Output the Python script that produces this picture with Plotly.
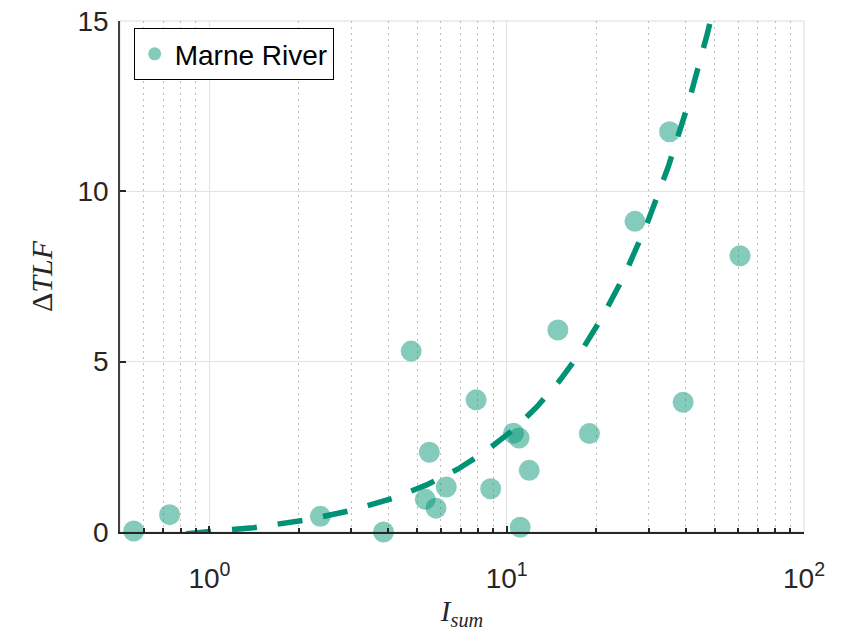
import numpy as np
import plotly.graph_objects as go

# Data
i_sum = [0.556, 0.734, 2.36, 3.85, 4.77, 5.49, 5.32, 5.78, 6.26, 7.89, 8.83,
         10.54, 11.0, 11.9, 11.1, 14.86, 18.97, 27.0, 35.3, 60.9, 39.2]
delta_tlf = [0.03, 0.51, 0.46, 0.0, 5.31, 2.34, 0.96, 0.70, 1.32, 3.88, 1.27,
             2.90, 2.76, 1.81, 0.14, 5.93, 2.89, 9.12, 11.75, 8.11, 3.81]

# Linear fit: dTLF = slope * I_sum + intercept
fit_slope = 0.316
fit_intercept = -0.316
fit_x_start = 0.835
fit_x_end = 55.0

x_tick_vals = [1, 10, 100]
x_tick_text = ["10<sup>0</sup>", "10<sup>1</sup>", "10<sup>2</sup>"]
x_minor_vals = [0.5, 0.6, 0.7, 0.8, 0.9, 2, 3, 4, 5, 6, 7, 8, 9,
                20, 30, 40, 50, 60, 70, 80, 90]
y_tick_vals = [0, 5, 10, 15]

fit_x = np.logspace(np.log10(fit_x_start), np.log10(fit_x_end), 300)
fit_y = fit_slope * fit_x + fit_intercept

marker_color = "rgba(0,146,114,0.48)"
line_color = "rgb(0,146,116)"
txt = "#262626"
sans = "Arial, Liberation Sans, Helvetica, sans-serif"
serif = "Liberation Serif, Times New Roman, DejaVu Serif, serif"

fig = go.Figure()
fig.add_trace(go.Scatter(
    x=i_sum, y=delta_tlf, mode="markers",
    marker=dict(size=21, color=marker_color, line=dict(width=0)),
    showlegend=False, cliponaxis=False))
fig.add_trace(go.Scatter(
    x=fit_x, y=fit_y, mode="lines",
    line=dict(color=line_color, width=5.5, dash="25px,21px"),
    showlegend=False))
fig.add_trace(go.Scatter(
    x=[None], y=[None], mode="markers", name="Marne River",
    marker=dict(size=13, color=marker_color)))

fig.update_layout(
    width=841, height=631,
    margin=dict(l=120, r=37, t=21, b=99),
    paper_bgcolor="white", plot_bgcolor="white",
    font=dict(family=sans, size=28, color=txt),
    legend=dict(x=0.02, y=0.986, xanchor="left", yanchor="top",
                bordercolor="black", borderwidth=1, bgcolor="white",
                font=dict(family=sans, size=28, color="black"),
                itemwidth=30, tracegroupgap=0),
    shapes=[dict(type="rect", xref="x domain", yref="y domain",
                 x0=0, x1=1, y0=0, y1=1,
                 line=dict(color="#dcdcdc", width=1), layer="below")],
)

fig.update_xaxes(
    type="log", range=[np.log10(0.5), 2], automargin=False,
    tickmode="array", tickvals=x_tick_vals, ticktext=x_tick_text,
    ticks="inside", ticklen=6, tickwidth=1.5, tickcolor=txt,
    showline=True, linecolor=txt, linewidth=2,
    showgrid=True, gridcolor="#e3e3e3", gridwidth=1,
    zeroline=False, ticklabelstandoff=20, ticklabeloverflow="allow",
    tickfont=dict(family=sans, size=28, color=txt),
    minor=dict(tickmode="array", tickvals=x_minor_vals, ticks="inside",
               ticklen=4, tickcolor=txt, showgrid=True, griddash="1.5px,4.5px",
               gridcolor="#bdbdbd", gridwidth=1),
    title=dict(text="<i>I</i><sub><i>sum</i></sub>",
               font=dict(family=serif, size=29, color=txt), standoff=14),
)
fig.update_yaxes(
    range=[0, 15], tickmode="array", tickvals=y_tick_vals, automargin=False,
    ticks="inside", ticklen=6, tickwidth=1.5, tickcolor=txt,
    showline=True, linecolor="#404040", linewidth=1.5,
    showgrid=True, gridcolor="#e3e3e3", gridwidth=1,
    zeroline=False, ticklabelstandoff=4, ticklabeloverflow="allow",
    tickfont=dict(family=sans, size=28, color=txt),
    title=dict(text="Δ<i>TLF</i>",
               font=dict(family=serif, size=30, color=txt), standoff=16),
)

# remove the default 8px page margin so the figure fills the window exactly
fig.write_html("out.html",
               config={"displayModeBar": False},
               post_script="document.body.style.margin='0';"
                           "document.body.style.overflow='hidden';")
